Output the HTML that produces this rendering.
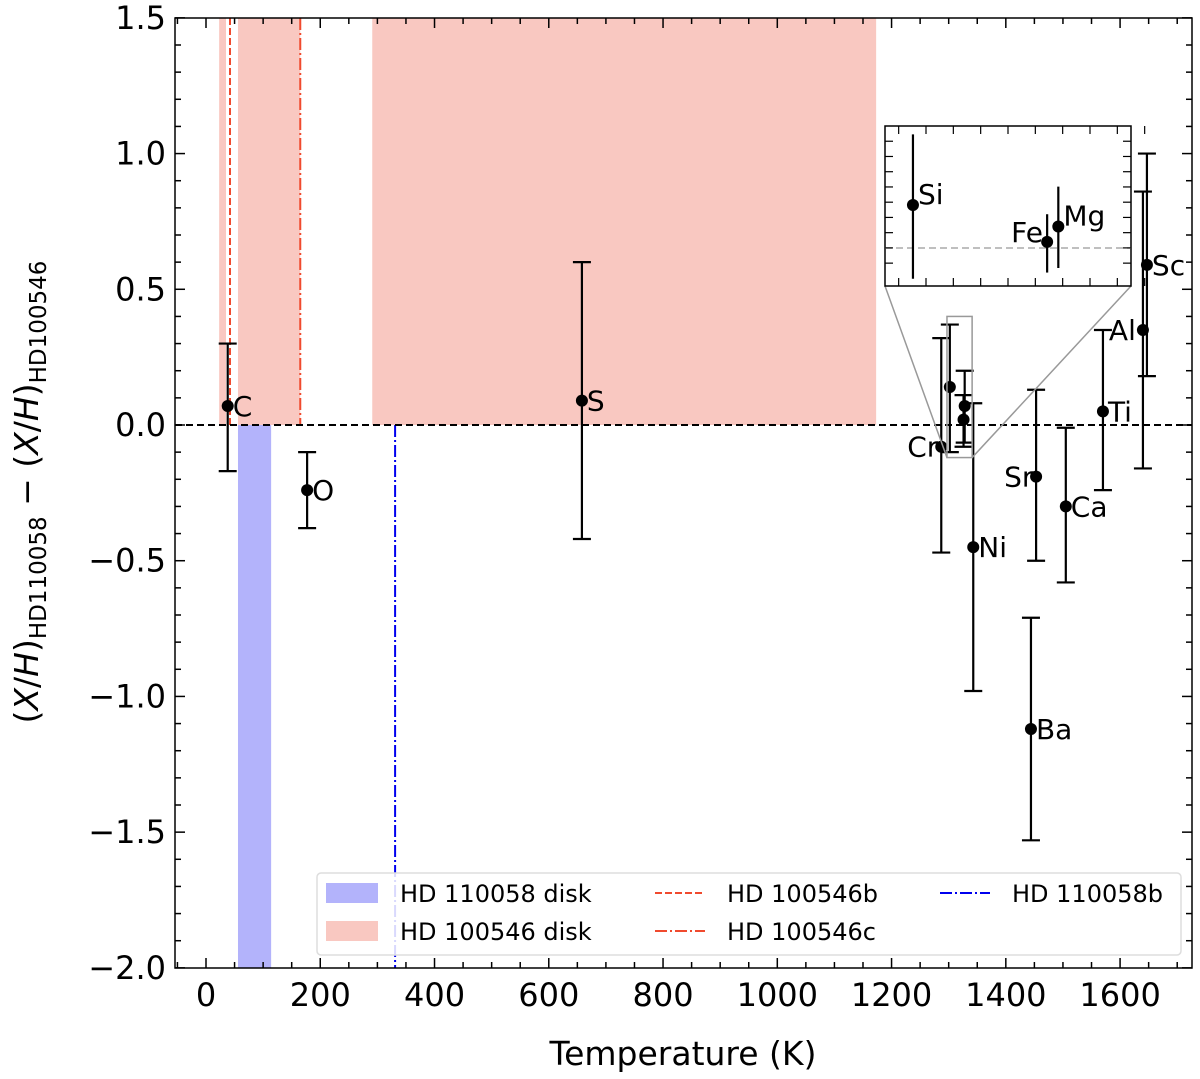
<!DOCTYPE html>
<html><head><meta charset="utf-8"><style>
body{margin:0;background:#fff}
svg{display:block;font-family:"DejaVu Sans","Liberation Sans",sans-serif}
</style></head><body>
<svg id="chart" width="1200" height="1079" viewBox="0 0 1200 1079" xmlns="http://www.w3.org/2000/svg">
<g id="bg"></g><g id="marks"></g><g id="axes"></g><g id="inset"></g><g id="legend"></g>
</svg>
<script>
const elements=["C","O","S","Cr","Si","Fe","Mg","Ni","Sr","Ba","Ca","Ti","Al","Sc"];
const temps=[38,177,658,1287,1302,1326,1328,1343,1453,1444,1505,1570,1640,1647];
const values=[0.07,-0.24,0.09,-0.08,0.14,0.02,0.07,-0.45,-0.19,-1.12,-0.30,0.05,0.35,0.59];
const errHi=[0.30,-0.10,0.60,0.32,0.37,0.11,0.20,0.08,0.13,-0.71,-0.01,0.35,0.86,1.00];
const errLo=[-0.17,-0.38,-0.42,-0.47,-0.10,-0.08,-0.065,-0.98,-0.50,-1.53,-0.58,-0.24,-0.16,0.18];
const labelDx=[5,5,5,-34,5,-36,5,5,-32,5,5,5,-34,5];
const redBands=[[23,35],[56,165],[291,1173]];
const blueBand=[56,114];
const planetB=42, planetC=165, planet110=331;
const xTicks=[0,200,400,600,800,1000,1200,1400,1600];
const yTicks=[1.5,1.0,0.5,0.0,-0.5,-1.0,-1.5,-2.0];

const L=175,R=1192,T=18,B=968;
const X=t=>206+t*0.5713;
const Y=v=>425-v*271.43;
const NS="http://www.w3.org/2000/svg";
function mk(parent,tag,attrs,text){const e=document.createElementNS(NS,tag);for(const k in attrs)e.setAttribute(k,attrs[k]);if(text!==undefined)e.textContent=text;document.getElementById(parent).appendChild(e);return e;}

redBands.forEach((b,i)=>{const e=mk('bg','rect',{x:X(b[0]),y:T,width:X(b[1])-X(b[0]),height:Y(0)-T,fill:'#f9c8c1'});

});
{const e=mk('bg','rect',{x:X(blueBand[0]),y:Y(0),width:X(blueBand[1])-X(blueBand[0]),height:B-Y(0),fill:'#b3b3fb'});

}
{const e=mk('bg','line',{x1:X(planetB),x2:X(planetB),y1:T,y2:Y(0),stroke:'#f04a2e','stroke-width':2,'stroke-dasharray':'7,3'});

}
{const e=mk('bg','line',{x1:X(planetC),x2:X(planetC),y1:T,y2:Y(0),stroke:'#f04a2e','stroke-width':2,'stroke-dasharray':'12,3,2,3'});

}
{const e=mk('bg','line',{x1:X(planet110),x2:X(planet110),y1:Y(0),y2:B,stroke:'#0000ee','stroke-width':2,'stroke-dasharray':'12,3,2,3'});

}
{const e=mk('bg','line',{x1:L,x2:R,y1:Y(0),y2:Y(0),stroke:'#000','stroke-width':2,'stroke-dasharray':'7,4'});

}

elements.forEach((el,i)=>{
  const x=X(temps[i]);
  const g=mk('marks','g',{});
  
  
  const add=(tag,a,t)=>{const e=document.createElementNS(NS,tag);for(const k in a)e.setAttribute(k,a[k]);if(t!==undefined)e.textContent=t;g.appendChild(e);return e;};
  add('line',{x1:x,x2:x,y1:Y(errHi[i]),y2:Y(errLo[i]),stroke:'#000','stroke-width':2.2});
  add('line',{x1:x-9,x2:x+9,y1:Y(errHi[i]),y2:Y(errHi[i]),stroke:'#000','stroke-width':2.2});
  add('line',{x1:x-9,x2:x+9,y1:Y(errLo[i]),y2:Y(errLo[i]),stroke:'#000','stroke-width':2.2});
  add('circle',{cx:x,cy:Y(values[i]),r:6,fill:'#000'});
  if(!['Si','Fe','Mg'].includes(el)){
    add('text',{x:x+labelDx[i],y:Y(values[i])+10,'font-size':28},el);
  }
});

{const e=mk('axes','rect',{x:L,y:T,width:R-L,height:B-T,fill:'none',stroke:'#000','stroke-width':1.5});

}
for(let t=-50;t<=1750;t+=50){const x=X(t);if(x<L||x>R)continue;const maj=t%200===0;const len=maj?10:6;
 mk('axes','line',{x1:x,x2:x,y1:B,y2:B-len,stroke:'#000','stroke-width':1.5});
 mk('axes','line',{x1:x,x2:x,y1:T,y2:T+len,stroke:'#000','stroke-width':1.5});}
for(let k=-20;k<=15;k++){const v=k/10;const y=Y(v);const maj=k%5===0;const len=maj?10:6;
 mk('axes','line',{x1:L,x2:L+len,y1:y,y2:y,stroke:'#000','stroke-width':1.5});
 mk('axes','line',{x1:R,x2:R-len,y1:y,y2:y,stroke:'#000','stroke-width':1.5});}
xTicks.forEach(t=>{const e=mk('axes','text',{x:X(t),y:1006,'font-size':32,'text-anchor':'middle'},String(t));

});
yTicks.forEach(v=>{const e=mk('axes','text',{x:166,y:Y(v)+11,'font-size':32,'text-anchor':'end'},(v<0?'\u2212':'')+Math.abs(v).toFixed(1));

});
{const e=mk('axes','text',{x:683,y:1065,'font-size':33,'text-anchor':'middle'},'Temperature (K)');

}
{const e=mk('axes','text',{x:38,y:492,'font-size':33,'text-anchor':'middle',transform:'rotate(-90 38 492)'});
e.innerHTML='(<tspan font-style="italic">X</tspan>/<tspan font-style="italic">H</tspan>)<tspan font-size="23" dy="8">HD110058</tspan><tspan dy="-8"> \u2212 (</tspan><tspan font-style="italic">X</tspan>/<tspan font-style="italic">H</tspan>)<tspan font-size="23" dy="8">HD100546</tspan>';

}

const ix0=1297,ix1=1341,iv0=-0.12,iv1=0.40;
const IL=885,IR=1131,IT=126,IB=286;
const IX=t=>IL+(t-ix0)/(ix1-ix0)*(IR-IL);
const IY=v=>248-v*307;
{
 mk('inset','rect',{x:X(ix0),y:Y(iv1),width:X(ix1)-X(ix0),height:Y(iv0)-Y(iv1),fill:'none',stroke:'#999','stroke-width':1.5});
 mk('inset','line',{x1:IL,y1:IB,x2:X(ix0),y2:Y(iv0),stroke:'#999','stroke-width':1.5});
 mk('inset','line',{x1:IR,y1:IB,x2:X(ix1),y2:Y(iv0),stroke:'#999','stroke-width':1.5});
 const bx=mk('inset','rect',{x:IL,y:IT,width:IR-IL,height:IB-IT,fill:'#fff',stroke:'#000','stroke-width':1.5});
 
 
 mk('inset','line',{x1:IL,x2:IR,y1:IY(0),y2:IY(0),stroke:'#aaa','stroke-width':1.5,'stroke-dasharray':'7,4'});
 for(let k=0;k<=9;k++){const x=IL+(k+0.5)*(IR-IL)/9; mk('inset','line',{x1:x,x2:x,y1:IT,y2:IT+8,stroke:'#000','stroke-width':1.2}); mk('inset','line',{x1:x,x2:x,y1:IB,y2:IB-8,stroke:'#000','stroke-width':1.2});}
 for(let k=1;k<10;k++){const y=IT+k*(IB-IT)/10.5; mk('inset','line',{x1:IL,x2:IL+8,y1:y,y2:y,stroke:'#000','stroke-width':1.2}); mk('inset','line',{x1:IR,x2:IR-8,y1:y,y2:y,stroke:'#000','stroke-width':1.2});}
 ['Si','Fe','Mg'].forEach(el=>{const i=elements.indexOf(el);const x=IX(temps[i]);
  mk('inset','line',{x1:x,x2:x,y1:Math.max(IT,IY(errHi[i])),y2:Math.min(IB,IY(errLo[i])),stroke:'#000','stroke-width':2.2});
  const c=mk('inset','circle',{cx:x,cy:IY(values[i]),r:6,fill:'#000'});
  
  
  mk('inset','text',{x:el==='Fe'?x-36:x+5,y:IY(values[i])+(el==='Fe'?0:-1),'font-size':28},el);
 });
}

{const e=mk('legend','rect',{x:317,y:873,width:864,height:82,rx:4,fill:'#fff','fill-opacity':0.85,stroke:'#ddd','stroke-width':1.5});

}
const leg=[
 {t:'patch',c:'#b3b3fb',x:326,y:893,l:'HD 110058 disk'},
 {t:'patch',c:'#f9c8c1',x:326,y:931,l:'HD 100546 disk'},
 {t:'line',c:'#f04a2e',d:'7,3',x:655,y:893,l:'HD 100546b'},
 {t:'line',c:'#f04a2e',d:'12,3,2,3',x:655,y:931,l:'HD 100546c'},
 {t:'line',c:'#0000ee',d:'12,3,2,3',x:940,y:893,l:'HD 110058b'}];
leg.forEach(o=>{
 const g=mk('legend','g',{});
 
 
 const add=(tag,a,t)=>{const e=document.createElementNS(NS,tag);for(const k in a)e.setAttribute(k,a[k]);if(t!==undefined)e.textContent=t;g.appendChild(e);};
 if(o.t==='patch'){add('rect',{x:o.x,y:o.y-10,width:52,height:20,fill:o.c});add('text',{x:o.x+74,y:o.y+9,'font-size':24},o.l);}
 else{add('line',{x1:o.x,x2:o.x+50,y1:o.y,y2:o.y,stroke:o.c,'stroke-width':2,'stroke-dasharray':o.d});add('text',{x:o.x+72,y:o.y+9,'font-size':24},o.l);}
});
</script>
</body></html>
